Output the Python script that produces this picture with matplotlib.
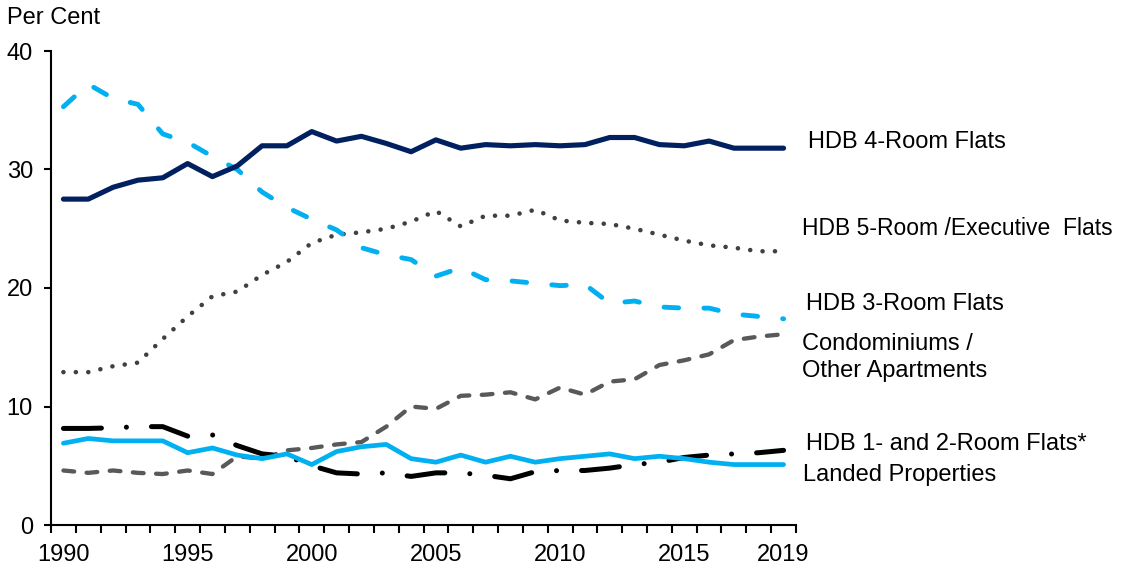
import matplotlib
matplotlib.use("Agg")
import matplotlib.pyplot as plt
import numpy as np

years = list(range(1990, 2020))
tick_years = [1990, 1995, 2000, 2005, 2010, 2015, 2019]

hdb4 = [27.5, 27.5, 28.5, 29.1, 29.3, 30.5, 29.4, 30.3, 32.0, 32.0,
        33.2, 32.4, 32.8, 32.2, 31.5, 32.5, 31.8, 32.1, 32.0, 32.1,
        32.0, 32.1, 32.7, 32.7, 32.1, 32.0, 32.4, 31.8, 31.8, 31.8]
hdb5 = [12.9, 12.9, 13.4, 13.7, 15.7, 17.6, 19.3, 19.7, 21.1, 22.2,
        23.8, 24.5, 24.7, 25.0, 25.6, 26.5, 25.2, 26.1, 26.1, 26.6,
        25.7, 25.5, 25.4, 25.0, 24.5, 24.0, 23.6, 23.4, 23.1, 23.1]
hdb3 = [35.3, 37.2, 36.0, 35.5, 33.0, 32.3, 31.1, 30.0, 28.1, 26.8,
        25.8, 24.9, 23.4, 22.8, 22.4, 21.0, 21.7, 20.7, 20.6, 20.4,
        20.2, 20.3, 18.7, 18.9, 18.4, 18.3, 18.3, 17.8, 17.6, 17.4]
condo = [4.6, 4.4, 4.6, 4.4, 4.3, 4.6, 4.3, 5.8, 5.6, 6.3,
         6.5, 6.8, 7.0, 8.3, 10.0, 9.8, 10.9, 11.0, 11.2, 10.6,
         11.6, 11.0, 12.1, 12.3, 13.5, 13.9, 14.4, 15.6, 15.9, 16.1]
hdb12 = [8.15, 8.15, 8.2, 8.3, 8.3, 7.5, 7.6, 6.7, 6.0, 5.8,
         5.0, 4.4, 4.3, 4.4, 4.1, 4.4, 4.4, 4.2, 3.9, 4.5,
         4.6, 4.6, 4.8, 5.1, 5.3, 5.7, 5.9, 6.0, 6.1, 6.3]
landed = [6.9, 7.3, 7.1, 7.1, 7.1, 6.1, 6.5, 5.9, 5.6, 6.0,
          5.1, 6.2, 6.6, 6.8, 5.6, 5.3, 5.9, 5.3, 5.8, 5.3,
          5.6, 5.8, 6.0, 5.6, 5.8, 5.6, 5.3, 5.1, 5.1, 5.1]

label_lines = [["HDB 4-Room Flats"], ["HDB 5-Room /Executive  Flats"], ["HDB 3-Room Flats"],
               ["Condominiums /", "Other Apartments"], ["HDB 1- and 2-Room Flats*"], ["Landed Properties"]]

plt.rcParams['font.family'] = ['Liberation Sans', 'DejaVu Sans']
FS = 17

W, H = 1123, 569
fig = plt.figure(figsize=(W / 100, H / 100), dpi=100)
ax = fig.add_axes([51 / W, 44 / H, (796 - 51) / W, (525 - 51) / H])

x = np.arange(len(years))

ax.plot(x, hdb5, color='#404040', lw=3.3, dashes=(0.01, 2.7), dash_capstyle='round', zorder=2)
ax.plot(x, condo, color='#595959', lw=3.1, dashes=(2.5, 2.9), dash_capstyle='round', zorder=2)
ax.plot(x, hdb12, color='#000000', lw=3.6, dashes=(7.6, 5.0, 0.01, 5.0), dash_capstyle='round', zorder=3)
ax.plot(x, landed, color='#00B0F0', lw=3.4, solid_capstyle='round', zorder=4)
ax.plot(x, hdb3, color='#00B0F0', lw=3.5, dashes=(3.0, 5.2), dash_capstyle='round', zorder=4)
ax.plot(x, hdb4, color='#002060', lw=3.7, solid_capstyle='round', zorder=5)

ax.set_xlim(-0.5, len(years) - 0.5)
ax.set_ylim(0, 40)

ax.set_yticks([0, 10, 20, 30, 40])
ax.set_yticklabels(['0', '10', '20', '30', '40'], fontsize=FS)
ax.tick_params(axis='y', direction='out', length=5, width=1.5, pad=8)

major_pos = [years.index(y) for y in tick_years]
ax.set_xticks(major_pos)
ax.set_xticklabels([str(y) for y in tick_years], fontsize=FS)
ax.set_xticks(np.arange(-0.5, len(years)), minor=True)
ax.tick_params(axis='x', which='major', length=0, pad=14)
ax.tick_params(axis='x', which='minor', direction='out', length=6, width=1.5)

for s in ['top', 'right']:
    ax.spines[s].set_visible(False)
for s in ['left', 'bottom']:
    ax.spines[s].set_linewidth(1.5)

fig.text(7 / W, 1 - 24 / H, "Per Cent", fontsize=FS, va='baseline', ha='left')

label_pos = [(808, [148]), (802, [235]), (806, [310]), (802, [350, 377]), (806, [450]), (803, [481])]
label_fs = [FS, 16.5, FS, FS, FS, FS]
for (px, pys), lines, fs in zip(label_pos, label_lines, label_fs):
    for py, line in zip(pys, lines):
        fig.text(px / W, 1 - py / H, line, fontsize=fs, va='baseline', ha='left')

fig.savefig("out.png", dpi=100)
